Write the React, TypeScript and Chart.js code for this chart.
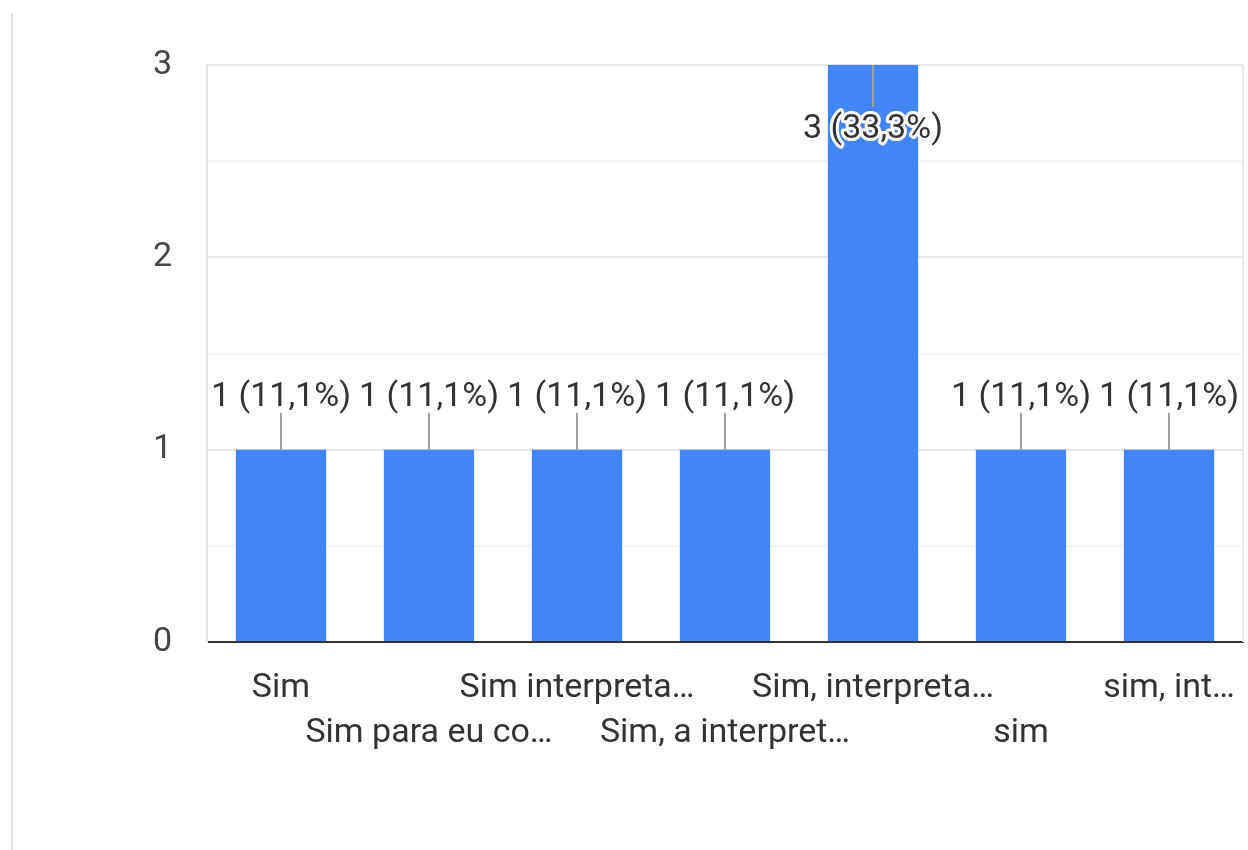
import React, { useEffect, useRef } from "react";
import { Chart, registerables } from "chart.js";

Chart.register(...registerables);

const categories: string[] = [
  "Sim",
  "Sim para eu co…",
  "Sim interpreta…",
  "Sim, a interpret…",
  "Sim, interpreta…",
  "sim",
  "sim, int…",
];
const counts: number[] = [1, 1, 1, 1, 3, 1, 1];
const yTicks: number[] = [0, 1, 2, 3];

const FONT = "Roboto, 'Noto Sans', sans-serif";
const FS = 34;

export default function App() {
  const ref = useRef<HTMLCanvasElement | null>(null);

  useEffect(() => {
    document.body.style.margin = "0";
    const canvas = ref.current;
    if (!canvas) return;
    const total = counts.reduce((a, b) => a + b, 0);

    const labelPlugin = {
      id: "valueLabels",
      afterDatasetsDraw(chart: any) {
        const ctx = chart.ctx;
        const area = chart.chartArea;
        const meta = chart.getDatasetMeta(0);
        ctx.save();
        ctx.strokeStyle = "#e8e8e8";
        ctx.lineWidth = 2;
        ctx.beginPath();
        ctx.moveTo(area.right, area.top);
        ctx.lineTo(area.right, area.bottom);
        ctx.stroke();

        ctx.font = `${FS}px ${FONT}`;
        ctx.textAlign = "center";
        ctx.textBaseline = "middle";
        meta.data.forEach((bar: any, i: number) => {
          const v = counts[i];
          const pct = ((v / total) * 100).toFixed(1).replace(".", ",");
          const text = `${v} (${pct}%)`;
          const x = bar.x;
          const top = bar.y;
          let ty: number;
          let lineEnd: number;
          const inside = top - 60 < area.top;
          if (!inside) {
            ty = top - 52;
            lineEnd = top - 37;
          } else {
            ty = top + 64;
            lineEnd = top + 42;
          }
          ctx.strokeStyle = "#9e9e9e";
          ctx.lineWidth = 2;
          ctx.beginPath();
          ctx.moveTo(x, top);
          ctx.lineTo(x, lineEnd);
          ctx.stroke();
          if (inside) {
            ctx.strokeStyle = "#ffffff";
            ctx.lineWidth = 6;
            ctx.lineJoin = "round";
            ctx.strokeText(text, x, ty);
          }
          ctx.fillStyle = "#333333";
          ctx.fillText(text, x, ty);
        });
        ctx.restore();
      },
    };

    const xLabels = categories.map((c, i) => (i % 2 === 0 ? [c, ""] : ["", c]));

    const chart = new Chart(canvas, {
      type: "bar",
      data: {
        labels: xLabels as any,
        datasets: [
          {
            data: counts,
            backgroundColor: "#4285F4",
            categoryPercentage: 0.61,
            barPercentage: 1,
          },
        ],
      },
      options: {
        animation: false,
        responsive: false,
        maintainAspectRatio: false,
        layout: { padding: { left: 0, right: 5, top: 65, bottom: 0 } },
        plugins: {
          legend: { display: false },
          tooltip: { enabled: false },
        },
        scales: {
          x: {
            grid: { display: false, drawTicks: false },
            border: { display: true, color: "#333333", width: 2 },
            ticks: {
              autoSkip: false,
              maxRotation: 0,
              minRotation: 0,
              padding: 24,
              color: "#333333",
              font: { family: FONT, size: FS, lineHeight: 45 / FS },
            },
            afterFit(scale: any) {
              scale.height = 208;
              scale.paddingLeft = 0;
              scale.paddingRight = 0;
            },
          },
          y: {
            min: 0,
            max: 3,
            afterBuildTicks(scale: any) {
              const t: any[] = [];
              yTicks.forEach((v, i) => {
                t.push({ value: v });
                if (i < yTicks.length - 1) t.push({ value: v + 0.5 });
              });
              scale.ticks = t;
            },
            grid: {
              drawTicks: false,
              color: (c: any) =>
                Number.isInteger(c.tick.value) ? "#e6e6e6" : "#f4f4f4",
              lineWidth: 2,
            },
            border: { display: true, color: "#e6e6e6", width: 2 },
            ticks: {
              padding: 35,
              color: "#444444",
              font: { family: FONT, size: FS },
              callback: (v: any) => (Number.isInteger(v) ? String(v) : ""),
            },
            afterFit(scale: any) {
              scale.width = 207;
            },
          },
        },
      },
      plugins: [labelPlugin],
    });
    return () => chart.destroy();
  }, []);

  return (
    <div style={{ position: "relative", width: 1248, height: 850, background: "#ffffff" }}>
      <div
        style={{
          position: "absolute",
          left: 11,
          top: 13,
          bottom: 0,
          width: 2,
          background: "#e0e0e0",
        }}
      />
      <canvas ref={ref} width={1248} height={850} style={{ position: "absolute", left: 0, top: 0 }} />
    </div>
  );
}
